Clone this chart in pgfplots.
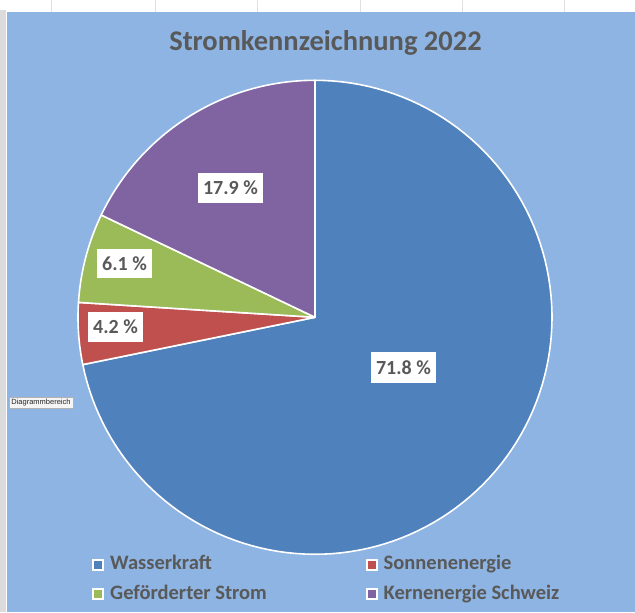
\documentclass[border=0pt]{standalone}
\usepackage{pgfplots}
\pgfplotsset{compat=1.18}
\usepackage{pgfplotstable}
\usepackage{fontspec}
\setmainfont{Carlito}
\newfontfamily\uifont{Liberation Sans}
\definecolor{bg}{HTML}{8DB4E2}
\definecolor{txt}{HTML}{595959}
\definecolor{cA}{HTML}{4F81BD}
\definecolor{cB}{HTML}{C0504D}
\definecolor{cC}{HTML}{9BBB59}
\definecolor{cD}{HTML}{8064A2}

\pgfplotstableread{
name share
Wasserkraft 71.8
Sonnenenergie 4.2
Gefoerderter 6.1
Kernenergie 17.9
}\pietable

\pgfplotstablegetelem{0}{share}\of\pietable\pgfmathsetmacro\sA{\pgfplotsretval}
\pgfplotstablegetelem{1}{share}\of\pietable\pgfmathsetmacro\sB{\pgfplotsretval}
\pgfplotstablegetelem{2}{share}\of\pietable\pgfmathsetmacro\sC{\pgfplotsretval}
\pgfplotstablegetelem{3}{share}\of\pietable\pgfmathsetmacro\sD{\pgfplotsretval}
\pgfmathsetmacro\aA{90}
\pgfmathsetmacro\aB{\aA-3.6*\sA}
\pgfmathsetmacro\aC{\aB-3.6*\sB}
\pgfmathsetmacro\aD{\aC-3.6*\sC}
\pgfmathsetmacro\aE{\aD-3.6*\sD}

\newcommand\slice[3]{%
  \addplot[fill=#3, draw=white, line width=1.6bp, line join=round,
    domain=#2:#1, samples=120, variable=\t]
    ({315+237*cos(\t)},{295+237*sin(\t)}) -- (315,295) -- cycle;}

\begin{document}
\begin{tikzpicture}
\begin{axis}[width=635bp,height=612bp,scale only axis,
  xmin=0,xmax=635,ymin=0,ymax=612,hide axis,clip=false]
% background
\fill[white] (0,0) rectangle (635,612);
\fill[bg] (7,0) rectangle (635,600);
\fill[black!14] (0,0) rectangle (6.3,602);
\pgfplotsinvokeforeach{51.7,155,257,360,462,564}{
  \draw[black!12, line width=0.6bp] (#1,600) -- (#1,612);
}
% title
\node[font=\fontsize{28.5bp}{34bp}\selectfont\bfseries, text=txt, anchor=base]
  at (325.5,562) {Stromkennzeichnung 2022};
% pie
\slice{\aA}{\aB}{cA}
\slice{\aB}{\aC}{cB}
\slice{\aC}{\aD}{cC}
\slice{\aD}{\aE}{cD}
% data labels
\tikzset{dl/.style={fill=white, inner sep=0pt, text=txt,
  font=\fontsize{20bp}{24bp}\selectfont\bfseries, text height=13bp, text depth=0bp}}
\node[dl, minimum width=65bp, minimum height=31bp] at (403.5,244.5) {71.8 \%};
\node[dl, minimum width=65bp, minimum height=30bp] at (230.5,424) {17.9 \%};
\node[dl, minimum width=55bp, minimum height=29bp] at (124.5,348.5) {6.1 \%};
\node[dl, minimum width=55bp, minimum height=30bp] at (115.5,285) {4.2 \%};
% legend
\tikzset{lg/.style={anchor=base west, text=txt, inner sep=0pt,
  font=\fontsize{20.5bp}{24bp}\selectfont\bfseries},
  mk/.style={draw=white, line width=2bp}}
\filldraw[mk, fill=cA] (93,42.5) rectangle (103,52.5);
\node[lg] at (110,42.7) {Wasserkraft};
\filldraw[mk, fill=cB] (367,42.5) rectangle (377,52.5);
\node[lg] at (383.5,42.7) {Sonnenenergie};
\filldraw[mk, fill=cC] (93,13) rectangle (103,23);
\node[lg] at (110,13) {Geförderter Strom};
\filldraw[mk, fill=cD] (367,13) rectangle (377,23);
\node[lg] at (383.5,13) {Kernenergie Schweiz};
% tooltip
\filldraw[fill=white!96!black, draw=black!30, line width=0.5bp] (9,204) rectangle (73,215);
\node[font=\uifont\fontsize{7.5bp}{9bp}\selectfont, text=black!85, inner sep=0pt] at (41,209.5) {Diagrammbereich};
\end{axis}
\end{tikzpicture}
\end{document}
